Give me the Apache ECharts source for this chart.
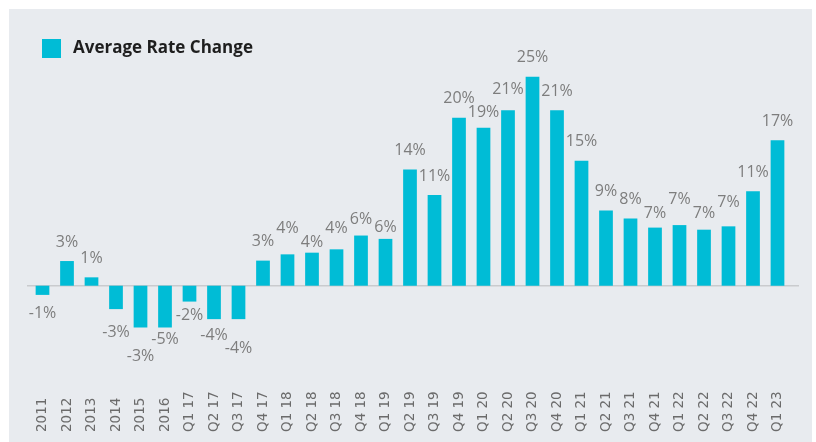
<!DOCTYPE html>
<html>
<head>
<meta charset="utf-8">
<script src="https://cdn.jsdelivr.net/npm/echarts@6/dist/echarts.min.js"></script>
<style>
  html, body { margin: 0; padding: 0; background: #ffffff; }
  #chart { width: 816px; height: 442px; }
</style>
</head>
<body>
<div id="chart"></div>
<script>
// ---- data ----
const categories = ["2011","2012","2013","2014","2015","2016",
  "Q1 17","Q2 17","Q3 17","Q4 17",
  "Q1 18","Q2 18","Q3 18","Q4 18",
  "Q1 19","Q2 19","Q3 19","Q4 19",
  "Q1 20","Q2 20","Q3 20","Q4 20",
  "Q1 21","Q2 21","Q3 21","Q4 21",
  "Q1 22","Q2 22","Q3 22","Q4 22",
  "Q1 23"];
const values = [-1.1, 2.95, 1.0, -2.8, -5.0, -5.0,
  -1.9, -4.0, -4.0, 3.0,
  3.75, 3.95, 4.35, 6.0,
  5.6, 13.9, 10.85, 20.1,
  18.9, 21.0, 25.0, 21.0,
  14.95, 9.0, 8.05, 6.95,
  7.25, 6.7, 7.1, 11.3,
  17.4];
const valueLabels = ["-1%","3%","1%","-3%","-3%","-5%",
  "-2%","-4%","-4%","3%",
  "4%","4%","4%","6%",
  "6%","14%","11%","20%",
  "19%","21%","25%","21%",
  "15%","9%","8%","7%",
  "7%","7%","7%","11%",
  "17%"];
const seriesName = "Average Rate Change";

// ---- label styling: extra distance (px) of each value label from its bar ----
const labelNudge = [0,0,0,4,10,-7,
  -5,-3,10,0,
  7,-9,2,-3,
  -8,0,0,0,
  -4,2,0,0,
  0,0,0,-5,
  7,-3,5,0,
  0];

const chart = echarts.init(document.getElementById('chart'), null, { renderer: 'canvas' });

const barData = values.map((v, i) => ({
  value: v,
  label: {
    formatter: valueLabels[i],
    position: v < 0 ? 'bottom' : 'top',
    offset: [0, v < 0 ? labelNudge[i] : -labelNudge[i]]
  }
}));

const panel = { id: 'panel', type: 'rect', z: -10, silent: true,
  shape: { x: 9, y: 9, width: 803, height: 433 },
  style: { fill: '#e8ebef' } };

const option = {
  backgroundColor: '#ffffff',
  animation: false,
  graphic: [panel],
  legend: {
    left: 42, top: 39, padding: 0,
    icon: 'rect', itemWidth: 19, itemHeight: 19, itemGap: 10,
    data: [seriesName],
    textStyle: { fontFamily: 'Open Sans', fontWeight: 'bold', fontSize: 17, color: '#1e1e1e', padding: [0, 0, 0, 7] }
  },
  grid: { left: 30.25, right: 26.25, top: 34.9, bottom: 72.7, containLabel: false },
  xAxis: {
    type: 'category',
    data: categories,
    axisLine: { show: false },
    axisTick: { show: false },
    axisLabel: {
      interval: 0, rotate: 90, align: 'left', verticalAlign: 'middle',
      margin: 62.7,
      fontFamily: 'DejaVu Sans', fontSize: 13.5, color: '#6b6b6b'
    }
  },
  yAxis: {
    type: 'value', min: -10, max: 30, show: false,
    splitLine: { show: false }
  },
  series: [{
    name: seriesName,
    type: 'bar',
    data: barData,
    barWidth: '56%',
    itemStyle: { color: '#00bcd6' },
    label: {
      show: true, distance: 11,
      fontFamily: 'Open Sans', fontSize: 16, color: '#7d7d7d'
    }
  }]
};

chart.setOption(option);

// zero baseline drawn at the y-axis position of 0
const zeroY = chart.convertToPixel({ yAxisIndex: 0 }, 0);
chart.setOption({
  graphic: [
    panel,
    { id: 'zero', type: 'line', z: 1, silent: true,
      shape: { x1: 27, y1: zeroY, x2: 799, y2: zeroY },
      style: { stroke: '#c9cbce', lineWidth: 1.5 } }
  ]
});
</script>
</body>
</html>
